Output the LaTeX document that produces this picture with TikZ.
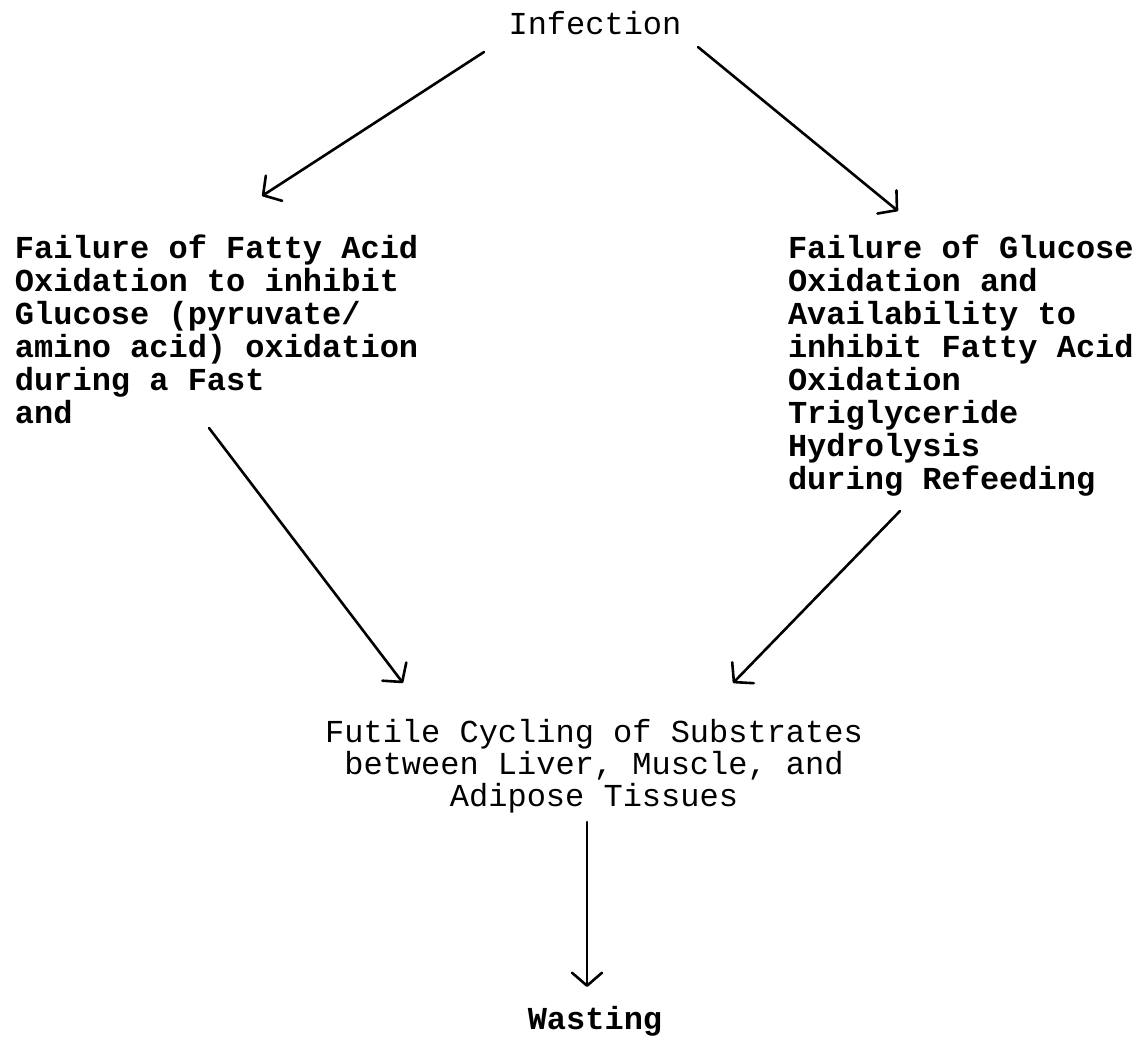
\documentclass[tikz,border=0pt]{standalone}
\usepackage{fontspec}
\setmonofont{Liberation Mono}
\usetikzlibrary{arrows.meta}
\begin{document}
\begin{tikzpicture}[x=1pt,y=-1pt,
  lbl/.style={inner sep=0pt,outer sep=0pt,font=\ttfamily\fontsize{32}{33}\selectfont},
  heavy/.style={lbl,font=\ttfamily\bfseries\fontsize{32}{33}\selectfont},
  flow/.style={line width=2.6pt,line cap=round,
    -{Straight Barb[length=13pt,width=30pt,line width=2.6pt,round]}}]
\useasboundingbox (0,0) rectangle (1144,1037);

% multi-line labels are placed by the baseline of their last line
\node[lbl,anchor=base] (inf) at (595,34) {Infection};
\node[heavy,anchor=base west,align=left] (fao) at (15,423)
  {Failure of Fatty Acid\\Oxidation to inhibit\\Glucose (pyruvate/\\amino acid) oxidation\\during a Fast\\and};
\node[heavy,anchor=base west,align=left] (gox) at (788,489)
  {Failure of Glucose\\Oxidation and\\Availability to\\inhibit Fatty Acid\\Oxidation\\Triglyceride\\Hydrolysis\\during Refeeding};
\node[lbl,anchor=base,align=center,font=\ttfamily\fontsize{32}{32}\selectfont] (fut) at (594,806)
  {Futile Cycling of Substrates\\between Liver, Muscle, and\\Adipose Tissues};
\node[heavy,anchor=base] (wst) at (595,1029) {Wasting};

% connector end points beside the text blocks
\coordinate (inf-l) at (484,52);
\coordinate (inf-r) at (698,47);
\coordinate (fao-in) at (262,196);
\coordinate (gox-in) at (898,211);
\coordinate (fao-out) at (209,428);
\coordinate (gox-out) at (900,511);
\coordinate (fut-inl) at (403,683);
\coordinate (fut-inr) at (733,683);
\coordinate (fut-out) at (587,822);
\coordinate (wst-in) at (587,987);

\draw[flow] (inf-l) -- (fao-in);
\draw[flow] (inf-r) -- (gox-in);
\draw[flow] (fao-out) -- (fut-inl);
\draw[flow] (gox-out) -- (fut-inr);
\draw[flow] (fut-out) -- (wst-in);
\end{tikzpicture}
\end{document}
